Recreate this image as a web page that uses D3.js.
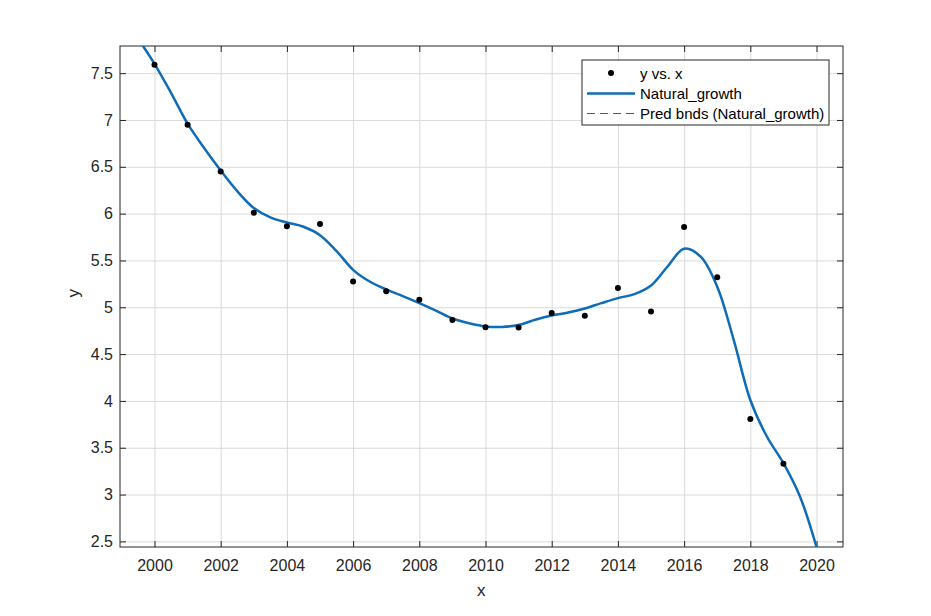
<!DOCTYPE html>
<html>
<head>
<meta charset="utf-8">
<script src="https://cdn.jsdelivr.net/npm/d3@7"></script>
<style>
  body { margin: 0; background: #fff; }
  svg { font-family: "Liberation Sans", Arial, sans-serif; }
</style>
</head>
<body>
<div id="graph"></div>
<script>
// observed points
const years = [2000, 2001, 2002, 2003, 2004, 2005, 2006, 2007, 2008, 2009,
               2010, 2011, 2012, 2013, 2014, 2015, 2016, 2017, 2018, 2019];
const values = [7.59, 6.95, 6.45, 6.01, 5.865, 5.89, 5.275, 5.17, 5.08, 4.865,
                4.786, 4.783, 4.94, 4.91, 5.207, 4.954, 5.856, 5.32, 3.806, 3.33];

// fitted curve
const fitX = [1999.5, 2000, 2000.5, 2001, 2001.5, 2002, 2002.5, 2003, 2003.5, 2004,
              2004.5, 2005, 2005.5, 2006, 2006.5, 2007, 2007.5, 2008, 2008.5, 2009,
              2009.5, 2010, 2010.5, 2011, 2011.5, 2012, 2012.5, 2013, 2013.5, 2014,
              2014.5, 2015, 2015.5, 2016, 2016.5, 2017, 2017.5, 2018, 2018.5, 2019,
              2019.5, 2020];
const fitY = [7.87, 7.60, 7.29, 6.96, 6.70, 6.46, 6.24, 6.06, 5.96, 5.905,
              5.86, 5.77, 5.60, 5.40, 5.275, 5.19, 5.12, 5.045, 4.965, 4.88,
              4.83, 4.795, 4.79, 4.81, 4.866, 4.912, 4.944, 4.987, 5.044, 5.098,
              5.14, 5.232, 5.435, 5.625, 5.54, 5.22, 4.65, 4.01, 3.62, 3.336,
              2.98, 2.44];

const xTicks = [2000, 2002, 2004, 2006, 2008, 2010, 2012, 2014, 2016, 2018, 2020];
const yTicks = [2.5, 3, 3.5, 4, 4.5, 5, 5.5, 6, 6.5, 7, 7.5];
const legendLabels = ["y vs. x", "Natural_growth", "Pred bnds (Natural_growth)"];

const width = 931;
const height = 616;
const marginLeft = 120;
const marginRight = 88;
const marginTop = 46;
const marginBottom = 69;
const ink = "#262626";
const blue = "#0f6cb6";

const xScale = d3.scaleLinear()
            .domain([1998.958, 2020.8])
            .range([marginLeft, width - marginRight]);

const yScale = d3.scaleLinear()
            .domain([2.44, 7.79])
            .range([height - marginBottom, marginTop]);

const plotW = width - marginLeft - marginRight;
const plotH = height - marginTop - marginBottom;

const svg = d3.create("svg")
              .attr("width", width)
              .attr("height", height)
              .attr("viewBox", `0 0 ${width} ${height}`);

svg.append("defs").append("clipPath")
   .attr("id", "plot-clip")
   .append("rect")
   .attr("x", marginLeft)
   .attr("y", marginTop)
   .attr("width", plotW)
   .attr("height", plotH);

// grid
const xGrid = svg.append("g")
   .attr("transform", `translate(0, ${height - marginBottom})`)
   .call(d3.axisBottom(xScale).tickValues(xTicks).tickSize(-plotH).tickFormat(""));
const yGrid = svg.append("g")
   .attr("transform", `translate(${marginLeft}, 0)`)
   .call(d3.axisLeft(yScale).tickValues(yTicks).tickSize(-plotW).tickFormat(""));
[xGrid, yGrid].forEach(g => {
   g.select(".domain").remove();
   g.selectAll("line").attr("stroke", "#dadada").attr("stroke-width", 1);
});

// axes (ticks pointing inward, box on)
const xAxis = svg.append("g")
   .attr("transform", `translate(0, ${height - marginBottom})`)
   .call(d3.axisBottom(xScale).tickValues(xTicks).tickSize(-6).tickPadding(13).tickFormat(d3.format("d")));
const xTop = svg.append("g")
   .attr("transform", `translate(0, ${marginTop})`)
   .call(d3.axisTop(xScale).tickValues(xTicks).tickSize(-6).tickFormat(""));
const yAxis = svg.append("g")
   .attr("transform", `translate(${marginLeft}, 0)`)
   .call(d3.axisLeft(yScale).tickValues(yTicks).tickSize(-6).tickPadding(7).tickFormat(d => d));
const yRight = svg.append("g")
   .attr("transform", `translate(${width - marginRight}, 0)`)
   .call(d3.axisRight(yScale).tickValues(yTicks).tickSize(-6).tickFormat(""));

[xAxis, xTop, yAxis, yRight].forEach(g => {
   g.select(".domain").remove();
   g.selectAll("line").attr("stroke", ink);
   g.selectAll("text")
    .attr("fill", ink)
    .style("font-size", "16px")
    .style("font-family", "'Liberation Sans', Arial, sans-serif");
});

svg.append("rect")
   .attr("x", marginLeft)
   .attr("y", marginTop)
   .attr("width", plotW)
   .attr("height", plotH)
   .attr("fill", "none")
   .attr("stroke", ink)
   .attr("stroke-width", 1);

// axis labels
svg.append("text")
   .attr("x", xScale(2009.87))
   .attr("y", 596)
   .attr("text-anchor", "middle")
   .attr("fill", ink)
   .style("font-size", "17px")
   .text("x");

svg.append("text")
   .attr("transform", `translate(79, ${yScale(5.15)}) rotate(-90)`)
   .attr("text-anchor", "middle")
   .attr("fill", ink)
   .style("font-size", "17px")
   .text("y");

// fitted curve
const line = d3.line()
   .x((d, i) => xScale(fitX[i]))
   .y(d => yScale(d))
   .curve(d3.curveCatmullRom.alpha(0.5));

svg.append("path")
   .attr("clip-path", "url(#plot-clip)")
   .attr("d", line(fitY))
   .attr("fill", "none")
   .attr("stroke", blue)
   .attr("stroke-width", 2.5);

// data points
svg.selectAll("circle.pt")
   .data(values)
   .enter()
   .append("circle")
   .classed("pt", true)
   .attr("cx", (d, i) => xScale(years[i]))
   .attr("cy", d => yScale(d))
   .attr("r", 3)
   .attr("fill", "#000");

// legend
const lg = svg.append("g").attr("transform", "translate(582, 60)");
lg.append("rect")
   .attr("width", 247)
   .attr("height", 65)
   .attr("fill", "#fff")
   .attr("stroke", ink)
   .attr("stroke-width", 1);

const rowY = [14, 33.5, 53.5];
lg.append("circle").attr("cx", 29).attr("cy", rowY[0] - 1).attr("r", 3).attr("fill", "#000");
lg.append("line")
   .attr("x1", 5).attr("x2", 53)
   .attr("y1", rowY[1]).attr("y2", rowY[1])
   .attr("stroke", blue).attr("stroke-width", 2.5);
lg.append("line")
   .attr("x1", 5).attr("x2", 53)
   .attr("y1", rowY[2]).attr("y2", rowY[2])
   .attr("stroke", blue).attr("stroke-width", 1)
   .attr("stroke-dasharray", "8,5");

lg.selectAll("text.lab")
   .data(legendLabels)
   .enter()
   .append("text")
   .classed("lab", true)
   .attr("x", 58)
   .attr("y", (d, i) => rowY[i])
   .attr("dy", "0.35em")
   .attr("fill", "#000")
   .style("font-size", "15px")
   .text(d => d);

document.getElementById("graph").append(svg.node());
</script>
</body>
</html>
